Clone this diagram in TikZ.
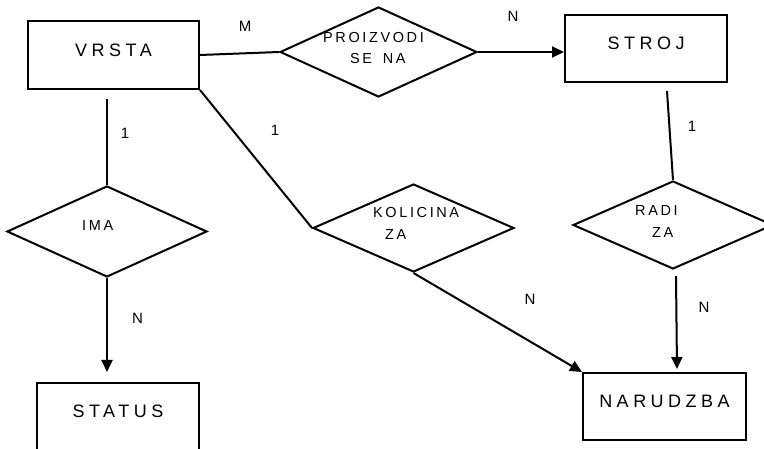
\documentclass[tikz,border=0pt]{standalone}
\usepackage{fontspec}
\setmainfont{Liberation Sans}
\newfontfamily\entfont[LetterSpace=25]{Liberation Sans}
\newfontfamily\relfont[LetterSpace=18]{Liberation Sans}
\usetikzlibrary{shapes.geometric,arrows.meta,calc}
\begin{document}
\begin{tikzpicture}[x=1pt,y=-1pt,
  entity/.style={draw,line width=2pt,rectangle,inner sep=0pt,
    font=\entfont\fontsize{18pt}{20pt}\selectfont,
    text height=12.9pt,text depth=10pt},
  relation/.style={draw,line width=2pt,diamond,inner sep=0pt},
  reltext/.style={anchor=west,inner sep=0pt,font=\relfont\fontsize{14.5pt}{16pt}\selectfont},
  card/.style={inner sep=0pt,font=\fontsize{15pt}{16pt}\selectfont},
  conn/.style={line width=2pt},
  arr/.style={line width=2pt,-{Triangle[length=12pt,width=11pt]}}
]
\useasboundingbox (0,0) rectangle (764,449);

% entities
\node[entity,minimum width=171pt,minimum height=68pt] (vrsta) at (113.5,55) {VRSTA};
\node[entity,minimum width=162pt,minimum height=67pt] (stroj) at (646,48.5) {STROJ};
\node[entity,minimum width=162pt,minimum height=70pt,text depth=14pt] (status) at (118,418) {STATUS};
\node[entity,minimum width=163pt,minimum height=67pt] (narudzba) at (664.5,406.5) {NARUDZBA};

% relations
\node[relation,minimum width=197pt,minimum height=90pt] (proiz) at (378.5,52) {};
\node[relation,minimum width=201pt,minimum height=88pt] (kol) at (413.5,228) {};
\node[relation,minimum width=200pt,minimum height=88pt] (radi) at (673,225) {};
\node[relation,minimum width=200pt,minimum height=91pt] (ima) at (107,231.5) {};

% relation texts
\node[reltext] (proizA) at (323,38) {PROIZVODI};
\node[reltext] (proizB) at (350,59) {SE\kern4pt{} NA};
\node[reltext] (kolA) at (373,213) {KOLICINA};
\node[reltext] (kolB) at (385,235) {ZA};
\node[reltext] (radiA) at (635,211) {RADI};
\node[reltext] (radiB) at (652,233) {ZA};
\node[reltext] (imaA) at (82,225.5) {IMA};

% connectors
\draw[conn] (vrsta.east) -- (proiz.west);
\draw[arr] (proiz.east) -- (proiz.east -| stroj.west);
\draw[conn] ($(stroj.south)+(21,8)$) -- (radi.north);
\draw[arr] ($(radi.south)+(3,6)$) -- ($(narudzba.north)+(12.5,-3)$);
\draw[conn] (vrsta.south east) -- (kol.west);
\draw[arr] (kol.south) -- (narudzba.north west);
\draw[conn] ($(ima.north |- vrsta.south)+(0,9)$) -- (ima.north);
\draw[arr] (ima.south) -- ($(ima.south |- status.north)+(0,-10)$);

% cardinalities
\node[card] (cM) at (245,26) {M};
\node[card] (cN1) at (513,16) {N};
\node[card] (c11) at (125,133) {1};
\node[card] (cN2) at (137.5,318) {N};
\node[card] (c12) at (275,130) {1};
\node[card] (c13) at (692,126) {1};
\node[card] (cN3) at (530,299) {N};
\node[card] (cN4) at (704,307) {N};
\end{tikzpicture}
\end{document}
